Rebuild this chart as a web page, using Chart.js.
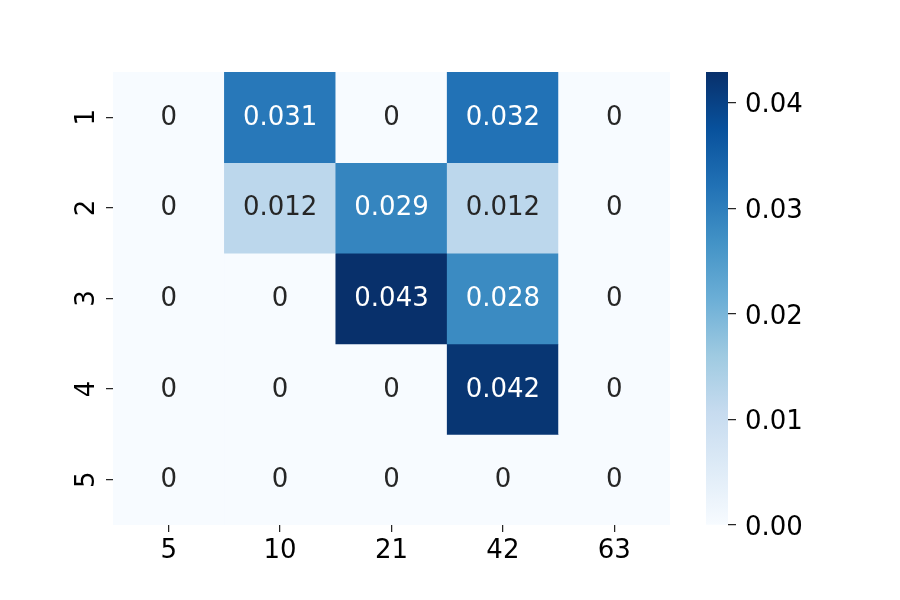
<!DOCTYPE html>
<html>
<head>
<meta charset="utf-8">
<script src="https://cdn.jsdelivr.net/npm/chart.js@4/dist/chart.umd.min.js"></script>
<style>
  body { margin: 0; background: #ffffff; }
  #wrap { position: relative; width: 900px; height: 600px; }
  canvas { position: absolute; left: 0; top: 0; }
</style>
</head>
<body>
<div id="wrap">
  <canvas id="heatmap" width="900" height="600"></canvas>
  <canvas id="colorbar" width="900" height="600"></canvas>
</div>
<script>
// categorias y valores del mapa de calor
const xLabels = ['5', '10', '21', '42', '63'];
const yLabels = ['1', '2', '3', '4', '5'];
const row1 = [0, 0.031, 0, 0.032, 0];
const row2 = [0, 0.012, 0.029, 0.012, 0];
const row3 = [0, 0, 0.0429, 0.028, 0];
const row4 = [0, 0, 0, 0.042, 0];
const row5 = [0, 0, 0, 0, 0];
const rows = [row1, row2, row3, row4, row5];
const cbTicks = [0, 0.01, 0.02, 0.03, 0.04];

const vMax = Math.max(...rows.flat());
const textDark = '#262626'; // texto oscuro de las celdas
const axisColor = '#000000';
const fontFamily = '"DejaVu Sans", sans-serif';
const fontSize = 26;

// paleta "Blues" de matplotlib
const bluesStops = ['#f7fbff', '#deebf7', '#c6dbef', '#9ecae1', '#6baed6', '#4292c6', '#2171b5', '#08519c', '#08306b'];

function hexToRgb(h) {
  return [parseInt(h.slice(1, 3), 16), parseInt(h.slice(3, 5), 16), parseInt(h.slice(5, 7), 16)];
}

function bluesRgb(t) {
  t = Math.min(1, Math.max(0, t));
  const pos = t * (bluesStops.length - 1);
  const i = Math.min(bluesStops.length - 2, Math.floor(pos));
  const f = pos - i;
  const a = hexToRgb(bluesStops[i]);
  const b = hexToRgb(bluesStops[i + 1]);
  return a.map((c, k) => Math.round(c + (b[k] - c) * f));
}

function rgbStr(c) {
  return `rgb(${c[0]}, ${c[1]}, ${c[2]})`;
}

function luminance(c) {
  const lin = c.map(v => {
    v = v / 255;
    return v <= 0.03928 ? v / 12.92 : Math.pow((v + 0.055) / 1.055, 2.4);
  });
  return 0.2126 * lin[0] + 0.7152 * lin[1] + 0.0722 * lin[2];
}

function formatValue(v) {
  return v === 0 ? '0' : String(Number(v.toPrecision(2)));
}

// etiquetas dentro de cada celda
const annotPlugin = {
  id: 'annot',
  afterDatasetsDraw(chart) {
    const ctx = chart.ctx;
    ctx.save();
    ctx.font = `${fontSize}px ${fontFamily}`;
    ctx.textAlign = 'center';
    ctx.textBaseline = 'alphabetic';
    rows.forEach((row, r) => {
      const meta = chart.getDatasetMeta(r);
      meta.data.forEach((bar, c) => {
        const v = row[c];
        const col = bluesRgb(v / vMax);
        ctx.fillStyle = luminance(col) > 0.408 ? textDark : '#ffffff';
        const p = bar.getCenterPoint();
        ctx.fillText(formatValue(v), p.x, p.y + 7.5);
      });
    });
    ctx.restore();
  }
};

// etiquetas del eje Y giradas 90 grados
const yLabelPlugin = {
  id: 'yLabels',
  afterDraw(chart) {
    const ys = chart.scales.y;
    const ctx = chart.ctx;
    ctx.save();
    ctx.font = `${fontSize}px ${fontFamily}`;
    ctx.fillStyle = axisColor;
    ctx.textAlign = 'center';
    ctx.textBaseline = 'alphabetic';
    yLabels.forEach((lab, i) => {
      const py = ys.getPixelForValue(i + 1);
      ctx.save();
      ctx.translate(ys.right - 19, py);
      ctx.rotate(-Math.PI / 2);
      ctx.fillText(lab, 0, 0);
      ctx.restore();
    });
    ctx.restore();
  }
};

const datasets = rows.map((row, r) => ({
  data: row.map(() => [r + 0.5, r + 1.5]),
  backgroundColor: row.map(v => rgbStr(bluesRgb(v / vMax))),
  borderWidth: 0,
  grouped: false,
  barPercentage: 1,
  categoryPercentage: 1
}));

new Chart(document.getElementById('heatmap'), {
  type: 'bar',
  data: { labels: xLabels, datasets: datasets },
  options: {
    responsive: false,
    animation: false,
    layout: { padding: { left: 0, top: 72, right: 230, bottom: 0 } },
    plugins: { legend: { display: false }, tooltip: { enabled: false } },
    scales: {
      x: {
        offset: true,
        grid: { offset: false, drawOnChartArea: false, drawTicks: true, tickLength: 7, color: textDark, lineWidth: 1.25 },
        border: { display: false },
        ticks: { color: axisColor, padding: 4, font: { family: fontFamily, size: fontSize } },
        afterFit: s => { s.height = 75; }
      },
      y: {
        type: 'linear',
        reverse: true,
        min: 0.5,
        max: 5.5,
        grid: { drawOnChartArea: false, drawTicks: true, tickLength: 7, color: textDark, lineWidth: 1.25 },
        border: { display: false },
        ticks: { display: false },
        afterBuildTicks: s => { s.ticks = yLabels.map((l, i) => ({ value: i + 1 })); },
        afterFit: s => { s.width = 113; }
      }
    }
  },
  plugins: [annotPlugin, yLabelPlugin]
});

// barra de color
new Chart(document.getElementById('colorbar'), {
  type: 'bar',
  data: {
    labels: [''],
    datasets: [{
      data: [[0, vMax]],
      borderWidth: 0,
      barPercentage: 1,
      categoryPercentage: 1,
      backgroundColor: ctx => {
        const chart = ctx.chart;
        const ys = chart.scales.y;
        if (!ys || !chart.chartArea) return bluesStops[0];
        const y0 = ys.getPixelForValue(0);
        const y1 = ys.getPixelForValue(vMax);
        if (!isFinite(y0) || !isFinite(y1)) return bluesStops[0];
        const g = chart.ctx.createLinearGradient(0, y0, 0, y1);
        bluesStops.forEach((c, i) => g.addColorStop(i / (bluesStops.length - 1), c));
        return g;
      }
    }]
  },
  options: {
    responsive: false,
    animation: false,
    layout: { padding: { left: 706, top: 72, right: 0, bottom: 75 } },
    plugins: { legend: { display: false }, tooltip: { enabled: false } },
    scales: {
      x: { display: false, offset: true },
      y: {
        position: 'right',
        min: 0,
        max: vMax,
        grid: { drawOnChartArea: false, drawTicks: true, tickLength: 8, color: textDark, lineWidth: 1.25 },
        border: { display: false },
        ticks: {
          color: axisColor,
          padding: 9,
          labelOffset: 3,
          font: { family: fontFamily, size: fontSize },
          callback: v => v.toFixed(2)
        },
        afterBuildTicks: s => { s.ticks = cbTicks.map(v => ({ value: v })); },
        afterFit: s => { s.width = 172; }
      }
    }
  }
});
</script>
</body>
</html>
